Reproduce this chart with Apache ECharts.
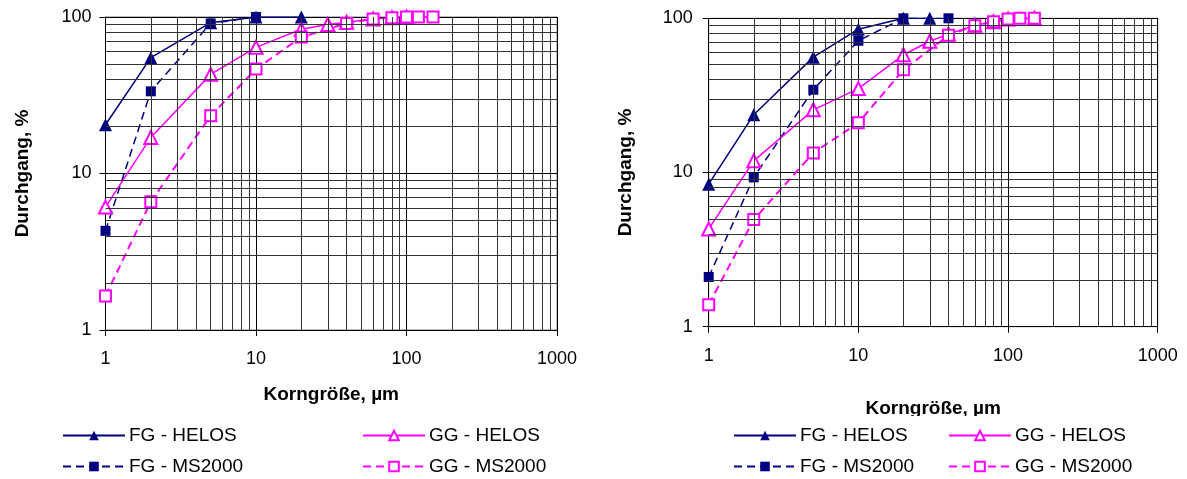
<!DOCTYPE html>
<html>
<head>
<meta charset="utf-8">
<script src="https://cdn.jsdelivr.net/npm/echarts@6/dist/echarts.min.js"></script>
<style>
  html, body { margin: 0; padding: 0; background: #fff; }
  #chart { width: 1187px; height: 479px; }
</style>
</head>
<body>
<div id="chart"></div>
<script>
// Particle size distribution (passing %, log-log), two samples side by side

// Left panel
const leftFgHelosX = [1, 2, 5, 10, 20];
const leftFgHelosY = [20.5, 55, 92, 100, 100];
const leftFgMsX = [1, 2, 5, 10];
const leftFgMsY = [4.3, 33.5, 91, 100];
const leftGgHelosX = [1, 2, 5, 10, 20, 30, 40, 60, 80, 100];
const leftGgHelosY = [6.1, 17, 43, 64, 83.5, 89.5, 92.5, 97, 99, 100];
const leftGgMsX = [1, 2, 5, 10, 20, 40, 60, 80, 100, 120, 150];
const leftGgMsY = [1.65, 6.6, 23.4, 46.5, 74.5, 91, 97, 99, 100, 100, 100];

// Right panel
const rightFgHelosX = [1, 2, 5, 10, 20, 30];
const rightFgHelosY = [8.4, 23.7, 56, 85, 100, 100];
const rightFgMsX = [1, 2, 5, 10, 20, 40];
const rightFgMsY = [2.1, 9.3, 34.4, 71.5, 100, 100];
const rightGgHelosX = [1, 2, 5, 10, 20, 30, 40, 60, 80, 100, 150];
const rightGgHelosY = [4.3, 11.9, 25.5, 35, 58, 71, 79, 90, 95, 99, 100];
const rightGgMsX = [1, 2, 5, 10, 20, 40, 60, 80, 100, 120, 150];
const rightGgMsY = [1.39, 4.95, 13.4, 21, 46.3, 77.5, 89.5, 95, 99, 100, 100];

// Axis text
const xTitle = 'Korngröße, µm';
const yTitle = 'Durchgang, %';
const seriesNames = ['FG - HELOS', 'FG - MS2000', 'GG - HELOS', 'GG - MS2000'];

// Minor grid values between the decades
const xMinor = [2, 3, 4, 5, 6, 7, 8, 9, 20, 30, 40, 50, 60, 70, 80, 90, 200, 300, 400, 500, 600, 700, 800, 900];
const yMinor = [2, 3, 4, 5, 6, 7, 8, 9, 20, 30, 40, 50, 60, 70, 80, 90];

const FONT = 'Liberation Sans, Arial, sans-serif';
const NAVY = '#000080';
const MAGENTA = '#FF00FF';

const pairs = (xs, ys) => xs.map((x, i) => [x, ys[i]]);

const styles = [
  { color: NAVY, symbol: 'triangle', symbolSize: 13, lineStyle: { width: 1.5, type: 'solid' } },
  { color: NAVY, symbol: 'rect', symbolSize: 10, lineStyle: { width: 1.5, type: [8, 5] } },
  { color: MAGENTA, symbol: 'emptyTriangle', symbolSize: 13, lineStyle: { width: 1.5, type: 'solid' } },
  { color: MAGENTA, symbol: 'emptyRect', symbolSize: 11, lineStyle: { width: 2, type: [8, 5] } }
];

function panelSeries(idx, sets) {
  const out = sets.map((d, k) => ({
    type: 'line',
    name: seriesNames[k],
    xAxisIndex: idx,
    yAxisIndex: idx,
    data: d,
    color: styles[k].color,
    symbol: styles[k].symbol,
    symbolSize: styles[k].symbolSize,
    showSymbol: true,
    showAllSymbol: true,
    lineStyle: Object.assign({ color: styles[k].color }, styles[k].lineStyle),
    itemStyle: { color: styles[k].color, borderWidth: 1.5 },
    z: 3,
    animation: false
  }));
  // minor log grid lines placed on the axes' own scales
  out.push({
    type: 'line',
    name: 'minor-grid-' + idx,
    xAxisIndex: idx,
    yAxisIndex: idx,
    data: [],
    z: 1,
    silent: true,
    animation: false,
    markLine: {
      silent: true,
      animation: false,
      symbol: ['none', 'none'],
      label: { show: false },
      emphasis: { disabled: true },
      lineStyle: { color: '#333', width: 1, type: 'solid' },
      data: xMinor.map(v => ({ xAxis: v })).concat(yMinor.map(v => ({ yAxis: v })))
    }
  });
  return out;
}

function xAxisCfg(idx, gap) {
  return {
    type: 'log', logBase: 10, gridIndex: idx, min: 1, max: 1000,
    name: xTitle, nameLocation: 'middle', nameGap: gap,
    nameTextStyle: { fontFamily: FONT, fontSize: 19, fontWeight: 'bold', color: '#000' },
    axisLine: { show: true, lineStyle: { color: '#000', width: 1 } },
    axisTick: { show: true, length: 6, lineStyle: { color: '#000' } },
    axisLabel: { fontFamily: FONT, fontSize: 18, color: '#000', margin: 20,
                 formatter: v => String(Math.round(v)) },
    splitLine: { show: true, lineStyle: { color: '#000', width: 1 } },
    minorTick: { show: false }, minorSplitLine: { show: false }
  };
}

function yAxisCfg(idx, margin) {
  return {
    type: 'log', logBase: 10, gridIndex: idx, min: 1, max: 100,
    name: yTitle, nameLocation: 'middle', nameGap: 73, nameRotate: 90,
    nameTextStyle: { fontFamily: FONT, fontSize: 19, fontWeight: 'bold', color: '#000' },
    axisLine: { show: true, lineStyle: { color: '#000', width: 1 } },
    axisTick: { show: true, length: 6, lineStyle: { color: '#000' } },
    axisLabel: { fontFamily: FONT, fontSize: 18, color: '#000', margin: margin,
                 formatter: v => String(Math.round(v)) },
    splitLine: { show: true, lineStyle: { color: '#000', width: 1 } },
    minorTick: { show: false }, minorSplitLine: { show: false }
  };
}

function legendCfg(left, names) {
  return {
    orient: 'vertical', left: left, top: 426, padding: 0, itemGap: 12,
    itemWidth: 62, itemHeight: 12, selectedMode: false,
    textStyle: { fontFamily: FONT, fontSize: 19, color: '#000', padding: [0, 0, 0, -1] },
    data: names
  };
}

const chart = echarts.init(document.getElementById('chart'), null, { renderer: 'canvas' });

chart.setOption({
  animation: false,
  backgroundColor: '#fff',
  grid: [
    { left: 105.5, top: 17, width: 451.5, height: 313, show: true, borderColor: '#808080', borderWidth: 1, containLabel: false },
    { left: 708.7, top: 18.3, width: 449, height: 308.4, show: true, borderColor: '#808080', borderWidth: 1, containLabel: false }
  ],
  xAxis: [xAxisCfg(0, 55), xAxisCfg(1, 73)],
  yAxis: [yAxisCfg(0, 14), yAxisCfg(1, 16)],
  legend: [
    legendCfg(62, ['FG - HELOS', 'FG - MS2000']),
    legendCfg(362, ['GG - HELOS', 'GG - MS2000']),
    legendCfg(733, ['FG - HELOS', 'FG - MS2000']),
    legendCfg(948, ['GG - HELOS', 'GG - MS2000'])
  ],
  graphic: [
    // the right-hand legend block overlaps the foot of the axis title
    { type: 'rect', z: 100, shape: { x: 840, y: 416, width: 190, height: 10 }, style: { fill: '#fff' } }
  ],
  series: panelSeries(0, [
    pairs(leftFgHelosX, leftFgHelosY),
    pairs(leftFgMsX, leftFgMsY),
    pairs(leftGgHelosX, leftGgHelosY),
    pairs(leftGgMsX, leftGgMsY)
  ]).concat(panelSeries(1, [
    pairs(rightFgHelosX, rightFgHelosY),
    pairs(rightFgMsX, rightFgMsY),
    pairs(rightGgHelosX, rightGgHelosY),
    pairs(rightGgMsX, rightGgMsY)
  ]))
});
</script>
</body>
</html>
